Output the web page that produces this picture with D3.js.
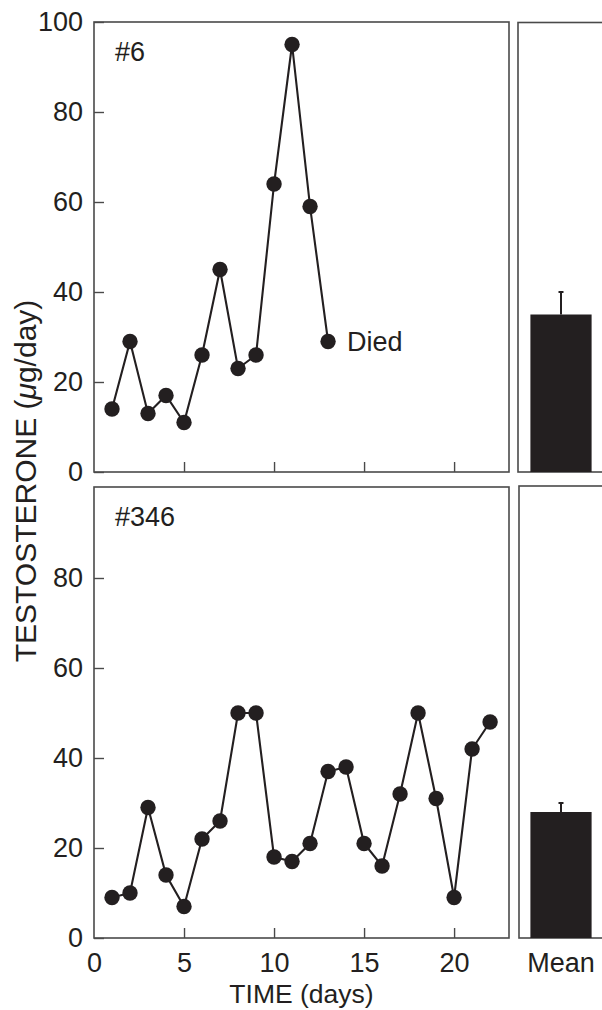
<!DOCTYPE html>
<html>
<head>
<meta charset="utf-8">
<script src="https://cdn.jsdelivr.net/npm/d3@7"></script>
<style>
  html, body { margin: 0; padding: 0; background: #fff; }
  svg { display: block; }
  text { font-family: "Liberation Sans", Arial, sans-serif; fill: #231f20; }
</style>
</head>
<body>
<svg id="chart" width="602" height="1010"></svg>
<script>
// ---- Data ----
const daysTop = [1,2,3,4,5,6,7,8,9,10,11,12,13];
const valuesTop = [14,29,13,17,11,26,45,23,26,64,95,59,29];
const daysBottom = [1,2,3,4,5,6,7,8,9,10,11,12,13,14,15,16,17,18,19,20,21,22];
const valuesBottom = [9,10,29,14,7,22,26,50,50,18,17,21,37,38,21,16,32,50,31,9,42,48];
const panelLabels = ["#6", "#346"];
const meanValues = [35, 28];
const meanErrors = [5, 2];
const xTicks = [0,5,10,15,20];
const yTicksTop = [0,20,40,60,80,100];
const yTicksBottom = [0,20,40,60,80];
const annotation = "Died";
const meanLabel = "Mean";

// ---- Layout ----
const svg = d3.select("#chart");
const ink = "#231f20";
const frameColor = "#4a4a4a";
const fs = 27;

const x = d3.scaleLinear().domain([0, 23.05]).range([94, 509]);
const panels = [
  { days: daysTop, vals: valuesTop, y: d3.scaleLinear().domain([0,100]).range([472, 22]),
    top: 22, bottom: 472, yTicks: yTicksTop, xLabels: false, label: panelLabels[0],
    mean: meanValues[0], err: meanErrors[0], rTop: 22.5, rLeft: 518 },
  { days: daysBottom, vals: valuesBottom, y: d3.scaleLinear().domain([0,100]).range([938, 488]),
    top: 487, bottom: 938, yTicks: yTicksBottom, xLabels: true, label: panelLabels[1],
    mean: meanValues[1], err: meanErrors[1], rTop: 486, rLeft: 519 }
];

// Bar scale for the right-hand mean panels
const xb = d3.scaleBand().domain([meanLabel]).range([520, 602]).paddingInner(0).paddingOuter(0.17);

panels.forEach((p, i) => {
  const g = svg.append("g");

  // frame of left panel
  g.append("rect")
    .attr("x", 94).attr("y", p.top)
    .attr("width", 509 - 94).attr("height", p.bottom - p.top)
    .attr("fill", "none").attr("stroke", frameColor).attr("stroke-width", 1.6);

  // y axis
  const ya = d3.axisLeft(p.y).tickValues(p.yTicks).tickSizeInner(-10).tickSizeOuter(0).tickPadding(11);
  const yg = g.append("g").attr("transform", "translate(94,0)").call(ya);
  yg.select(".domain").remove();
  yg.selectAll(".tick line").attr("stroke", frameColor).attr("stroke-width", 1.4);
  yg.selectAll(".tick text").attr("font-size", fs).attr("fill", ink)
    .attr("font-family", "Liberation Sans, Arial, sans-serif");

  // x axis
  const xa = d3.axisBottom(x).tickValues(xTicks).tickSizeInner(-10).tickSizeOuter(0).tickPadding(15);
  if (!p.xLabels) xa.tickFormat(() => "");
  const xg = g.append("g").attr("transform", `translate(0,${p.bottom})`).call(xa);
  xg.select(".domain").remove();
  xg.selectAll(".tick line").attr("stroke", frameColor).attr("stroke-width", 1.4)
    .filter(d => d === 0).remove();
  xg.selectAll(".tick text").attr("font-size", fs).attr("fill", ink)
    .attr("font-family", "Liberation Sans, Arial, sans-serif");

  // line + points
  const pts = p.days.map((d, j) => [d, p.vals[j]]);
  const line = d3.line().x(d => x(d[0])).y(d => p.y(d[1]));
  g.append("path").datum(pts).attr("d", line)
    .attr("fill", "none").attr("stroke", ink).attr("stroke-width", 2.1);
  g.selectAll("circle.pt").data(pts).enter().append("circle")
    .attr("class", "pt")
    .attr("cx", d => x(d[0])).attr("cy", d => p.y(d[1])).attr("r", 7.7)
    .attr("fill", ink);

  // panel label
  g.append("text").attr("x", 115).attr("y", p.top + 39)
    .attr("font-size", fs).text(p.label);

  // right mean panel
  g.append("rect")
    .attr("x", p.rLeft).attr("y", p.rTop)
    .attr("width", 120).attr("height", p.bottom - p.rTop)
    .attr("fill", "none").attr("stroke", frameColor).attr("stroke-width", 1.6);

  const bx = xb(meanLabel), bw = xb.bandwidth();
  g.append("rect")
    .attr("x", bx).attr("y", p.y(p.mean))
    .attr("width", bw).attr("height", p.y(0) - p.y(p.mean))
    .attr("fill", ink);
  const cx = bx + bw / 2;
  g.append("line")
    .attr("x1", cx).attr("x2", cx)
    .attr("y1", p.y(p.mean)).attr("y2", p.y(p.mean + p.err))
    .attr("stroke", ink).attr("stroke-width", 2);
  g.append("line")
    .attr("x1", cx - 2.5).attr("x2", cx + 2.5)
    .attr("y1", p.y(p.mean + p.err)).attr("y2", p.y(p.mean + p.err))
    .attr("stroke", ink).attr("stroke-width", 2);

  if (i === 0) {
    // annotation at last point
    const last = pts[pts.length - 1];
    g.append("text")
      .attr("x", x(last[0]) + 19).attr("y", p.y(last[1]))
      .attr("dy", "0.35em").attr("font-size", fs).text(annotation);
  } else {
    g.append("text").attr("x", cx).attr("y", 972)
      .attr("text-anchor", "middle").attr("font-size", fs).text(meanLabel);
  }
});

// axis titles
svg.append("text")
  .attr("x", 301.5).attr("y", 1003)
  .attr("text-anchor", "middle").attr("font-size", 26.5)
  .text("TIME (days)");

const yt = svg.append("text")
  .attr("transform", "translate(36,481) rotate(-90)")
  .attr("text-anchor", "middle").attr("font-size", 30);
yt.append("tspan").text("TESTOSTERONE (");
yt.append("tspan").attr("font-style", "italic").text("μ");
yt.append("tspan").text("g/day)");
</script>
</body>
</html>
